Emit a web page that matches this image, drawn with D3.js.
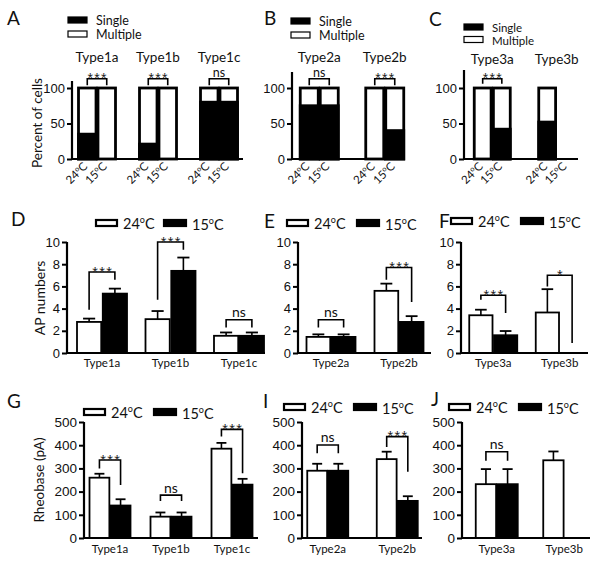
<!DOCTYPE html>
<html><head><meta charset="utf-8">
<script src="https://cdn.jsdelivr.net/npm/d3@7"></script>
<style>body{margin:0;background:#fff}svg{display:block}</style>
</head><body><svg id="c" width="600" height="563"></svg>
<script>
// ---------------- DATA ----------------
const conds = ["24", "15"];
// Row 1: percent of cells with single spikes
const groupsA = ["Type1a", "Type1b", "Type1c"];
const singleA24 = [35, 21, 80];
const singleA15 = [0, 0, 80];
const groupsB = ["Type2a", "Type2b"];
const singleB24 = [75, 0];
const singleB15 = [75, 40];
const groupsC = ["Type3a", "Type3b"];
const singleC24 = [0, 52];
const singleC15 = [42, null];
const pctTicks = [0, 50, 100];
// significance brackets: [groupIndex, label, level, leftLeg, rightLeg]
const sigA = [[0, "***", 113, 104, 104], [1, "***", 113, 104, 104], [2, "ns", 113, 104, 104]];
const sigB = [[0, "ns", 113, 104, 104], [1, "***", 113, 104, 104]];
const sigC = [[0, "***", 113, 106, 106]];

// Row 2: AP numbers (mean, sem)
const apD24 = [2.8, 3.05, 1.55], apD24sem = [0.3, 0.73, 0.3];
const apD15 = [5.35, 7.4, 1.55], apD15sem = [0.45, 1.2, 0.3];
const apE24 = [1.45, 5.6], apE24sem = [0.23, 0.65];
const apE15 = [1.45, 2.8], apE15sem = [0.23, 0.52];
const apF24 = [3.4, 3.65], apF24sem = [0.5, 2.1];
const apF15 = [1.6, null], apF15sem = [0.38, null];
const apTicks = [0, 2, 4, 6, 8, 10];
const sigD = [[0, "***", 7.3, 3.9, 6.6], [1, "***", 10.0, 4.8, 9.3], [2, "ns", 3.0, 2.3, 2.3]];
const sigE = [[0, "ns", 3.0, 2.3, 2.3], [1, "***", 7.7, 6.6, 4.6]];
const sigF = [[0, "***", 5.2, 4.8, 3.6], [1, "*", 7.0, 6.0, 0.9]];

// Row 3: Rheobase (pA)
const rhG24 = [260, 92, 385], rhG24sem = [17, 18, 25];
const rhG15 = [140, 92, 230], rhG15sem = [27, 18, 25];
const rhI24 = [290, 340], rhI24sem = [30, 32];
const rhI15 = [290, 160], rhI15sem = [30, 20];
const rhJ24 = [232, 335], rhJ24sem = [65, 38];
const rhJ15 = [232, null], rhJ15sem = [65, null];
const rhTicks = [0, 100, 200, 300, 400, 500];
const sigG = [[0, "***", 336, 300, 228], [1, "ns", 185, 160, 160], [2, "***", 468, 437, 279]];
const sigI = [[0, "ns", 401, 365, 365], [1, "***", 437, 392, 286]];
const sigJ = [[0, "ns", 372, 333, 333]];

// ---------------- DRAWING ----------------
const svg = d3.select("#c");
const NUM = "'Liberation Sans', Arial, sans-serif";
const LAB = "Lato, 'Open Sans', sans-serif";
const INK = "#111";

function tempText(sel, t, fs) {
  sel.append("tspan").text(t);
  sel.append("tspan").text("o").attr("font-size", fs * 0.62).attr("dy", -fs * 0.38);
  sel.append("tspan").text("C").attr("dy", fs * 0.38);
}

function scales(o) {
  const y = d3.scaleLinear().domain([0, o.max]).range([o.y0, o.yMax]);
  const p = 1 - o.pair / o.step;
  const xg = d3.scaleBand().domain(o.groups)
    .range([o.bx, o.bx + o.step * o.groups.length])
    .paddingInner(p).paddingOuter(p / 2);
  const xi = d3.scaleBand().domain(conds).range([0, xg.bandwidth()]).paddingInner(o.gap);
  return {y, xg, xi};
}

function axes(o, s, tickFs) {
  const g = svg.append("g").attr("transform", `translate(${o.ax},0)`);
  g.call(d3.axisLeft(s.y).tickValues(o.ticks).tickSize(5).tickPadding(2))
    .call(a => a.select(".domain").remove())
    .call(a => a.selectAll("line").attr("stroke", "#000").attr("stroke-width", 2))
    .call(a => a.selectAll("text").attr("font-family", NUM).attr("font-size", tickFs).attr("fill", INK));
  svg.append("line").attr("x1", o.ax).attr("x2", o.ax).attr("y1", s.y(0) + 1).attr("y2", o.axTop)
    .attr("stroke", "#000").attr("stroke-width", 2.2);
  svg.append("line").attr("x1", o.ax).attr("x2", o.axRight).attr("y1", s.y(0)).attr("y2", s.y(0))
    .attr("stroke", "#000").attr("stroke-width", 2.2);
}

function brackets(o, s, sig, fsStar, fsNs, nsGap) {
  sig.forEach(([gi, lab, lev, l, r]) => {
    const g = o.groups[gi];
    const xl = s.xg(g) + s.xi("24") + s.xi.bandwidth() / 2;
    const xr = s.xg(g) + s.xi("15") + s.xi.bandwidth() / 2;
    const yl = s.y(lev);
    svg.append("path")
      .attr("d", `M${xl},${s.y(l)}V${yl}H${xr}V${s.y(r)}`)
      .attr("fill", "none").attr("stroke", "#000").attr("stroke-width", 1.6);
    const star = lab.startsWith("*");
    svg.append("text").attr("x", (xl + xr) / 2 + (star ? 0.7 : 0)).attr("y", star ? yl + 0.42 * fsStar - 1.5 : yl - nsGap)
      .attr("text-anchor", "middle").attr("font-family", star ? NUM : LAB)
      .attr("font-size", star ? fsStar : fsNs).attr("fill", star ? "#222" : INK)
      .attr("letter-spacing", star ? 1.4 : 0).text(lab);
  });
}

function letter(t, x, y) {
  svg.append("text").attr("x", x).attr("y", y).attr("font-family", LAB).attr("font-size", 19).attr("fill", INK).text(t);
}

// ---- Row 1 ----
function pctPanel(o) {
  const s = scales(o);
  const bw = s.xi.bandwidth();
  o.groups.forEach((g, i) => {
    [[o.s24[i], "24"], [o.s15[i], "15"]].forEach(([v, c]) => {
      const x = s.xg(g) + s.xi(c);
      if (v !== null) {
        svg.append("rect").attr("x", x).attr("y", s.y(100)).attr("width", bw).attr("height", s.y(0) - s.y(100))
          .attr("fill", "#fff").attr("stroke", "#000").attr("stroke-width", 2.8);
        if (v > 0) svg.append("rect").attr("x", x).attr("y", s.y(v)).attr("width", bw).attr("height", s.y(0) - s.y(v))
          .attr("fill", "#000").attr("stroke", "#000").attr("stroke-width", 2.8);
      }
      const lx = x + bw / 2 + 1, ly = s.y(0) + 8;
      const t = svg.append("text").attr("transform", `translate(${lx},${ly}) rotate(-45)`)
        .attr("text-anchor", "end").attr("font-family", LAB).attr("font-size", 11.5).attr("fill", INK);
      tempText(t, c, 11.5);
    });
    svg.append("text").attr("x", s.xg(g) + s.xg.bandwidth() / 2).attr("y", o.titleY)
      .attr("text-anchor", "middle").attr("font-family", LAB).attr("font-size", 13.5).attr("fill", INK).text(g);
  });
  axes(o, s, 13);
  brackets(o, s, o.sig, 14, 12.5, 1.5);
  // legend
  const L = o.leg;
  svg.append("rect").attr("x", L[0]).attr("y", L[1]).attr("width", 19).attr("height", 6)
    .attr("fill", "#000").attr("stroke", "#000").attr("stroke-width", 1.2);
  svg.append("rect").attr("x", L[0]).attr("y", L[1] + L[2]).attr("width", 19).attr("height", 6)
    .attr("fill", "#fff").attr("stroke", "#000").attr("stroke-width", 1.2);
  svg.append("text").attr("x", L[0] + 28).attr("y", L[1] + 8).attr("font-family", LAB).attr("font-size", L[3]).attr("fill", INK).text("Single");
  svg.append("text").attr("x", L[0] + 28).attr("y", L[1] + L[2] + 8).attr("font-family", LAB).attr("font-size", L[3]).attr("fill", INK).text("Multiple");
}

pctPanel({groups: groupsA, s24: singleA24, s15: singleA15, max: 100, y0: 159, yMax: 88, ticks: pctTicks,
  bx: 66.5, step: 61, pair: 37, gap: 0.1, ax: 72, axTop: 81, axRight: 243, titleY: 61.5, sig: sigA, leg: [68, 17, 14, 12.5]});
pctPanel({groups: groupsB, s24: singleB24, s15: singleB15, max: 100, y0: 159, yMax: 88, ticks: pctTicks,
  bx: 286.5, step: 65.5, pair: 38, gap: 0.1, ax: 292, axTop: 72, axRight: 405, titleY: 61.5, sig: sigB, leg: [291, 18, 14, 12.5]});
pctPanel({groups: groupsC, s24: singleC24, s15: singleC15, max: 100, y0: 159, yMax: 88, ticks: pctTicks,
  bx: 460, step: 64.5, pair: 36, gap: 0.12, ax: 464, axTop: 70, axRight: 578, titleY: 64, sig: sigC, leg: [464, 24, 12.5, 11.5]});
letter("A", 7, 25); letter("B", 264, 25); letter("C", 429, 26);
svg.append("text").attr("transform", "translate(42,123) rotate(-90)").attr("text-anchor", "middle")
  .attr("font-family", LAB).attr("font-size", 13.5).attr("fill", INK).text("Percent of cells");

// ---- Rows 2 & 3 ----
function meanPanel(o) {
  const s = scales(o);
  const bw = s.xi.bandwidth();
  o.groups.forEach((g, i) => {
    [[o.m24[i], o.e24[i], "24", "#fff"], [o.m15[i], o.e15[i], "15", "#000"]].forEach(([v, e, c, fill]) => {
      if (v === null) return;
      const x = s.xg(g) + s.xi(c);
      const cx = x + bw / 2;
      svg.append("line").attr("x1", cx).attr("x2", cx).attr("y1", s.y(v)).attr("y2", s.y(v + e))
        .attr("stroke", "#000").attr("stroke-width", 1.6);
      svg.append("line").attr("x1", cx - bw * 0.25).attr("x2", cx + bw * 0.25).attr("y1", s.y(v + e)).attr("y2", s.y(v + e))
        .attr("stroke", "#000").attr("stroke-width", 1.8);
      svg.append("rect").attr("x", x).attr("y", s.y(v)).attr("width", bw).attr("height", s.y(0) - s.y(v))
        .attr("fill", fill).attr("stroke", "#000").attr("stroke-width", 1.8);
    });
  });
  axes(o, s, o.tickFs);
  svg.append("g").attr("transform", `translate(0,${s.y(0)})`)
    .call(d3.axisBottom(s.xg).tickSize(0).tickPadding(o.labPad))
    .call(a => a.select(".domain").remove())
    .call(a => a.selectAll("text").attr("font-family", LAB).attr("font-size", o.labFs).attr("fill", INK));
  brackets(o, s, o.sig, 14.5, 14, 2.5);
  const L = o.leg;
  svg.append("rect").attr("x", L[0]).attr("y", L[1]).attr("width", 21).attr("height", 6)
    .attr("fill", "#fff").attr("stroke", "#000").attr("stroke-width", 2.2);
  const t1 = svg.append("text").attr("x", L[0] + 27).attr("y", L[1] + 9).attr("font-family", LAB).attr("font-size", 14.5).attr("fill", INK);
  tempText(t1, "24", 14.5);
  svg.append("rect").attr("x", L[2]).attr("y", L[1]).attr("width", 22).attr("height", 6)
    .attr("fill", "#000").attr("stroke", "#000").attr("stroke-width", 2.2);
  const t2 = svg.append("text").attr("x", L[2] + 28).attr("y", L[1] + 9.5).attr("font-family", LAB).attr("font-size", 14.5).attr("fill", INK);
  tempText(t2, "15", 14.5);
}

const r2 = {max: 10, y0: 353, yMax: 242, ticks: apTicks, gap: 0.06, tickFs: 13, labFs: 11.5, labPad: 6};
meanPanel(Object.assign({}, r2, {groups: groupsA, m24: apD24, e24: apD24sem, m15: apD15, e15: apD15sem,
  bx: 67.75, step: 68.5, pair: 50, ax: 67, axTop: 242, axRight: 265, sig: sigD, leg: [96, 220, 164]}));
meanPanel(Object.assign({}, r2, {groups: groupsB, m24: apE24, e24: apE24sem, m15: apE15, e15: apE15sem,
  bx: 297, step: 68, pair: 49, ax: 298, axTop: 242, axRight: 431, sig: sigE, leg: [287, 220, 357]}));
meanPanel(Object.assign({}, r2, {groups: groupsC, m24: apF24, e24: apF24sem, m15: apF15, e15: apF15sem,
  bx: 460, step: 66.5, pair: 48, ax: 461, axTop: 242, axRight: 588, sig: sigF, leg: [451, 218, 521]}));
letter("D", 11, 226); letter("E", 264, 228); letter("F", 439, 228);
svg.append("text").attr("transform", "translate(45,298) rotate(-90)").attr("text-anchor", "middle")
  .attr("font-family", LAB).attr("font-size", 14).attr("fill", INK).text("AP numbers");

const r3 = {max: 500, y0: 538, yMax: 422, ticks: rhTicks, gap: 0.06, tickFs: 13.5, labFs: 11.5, labPad: 7};
meanPanel(Object.assign({}, r3, {groups: groupsA, m24: rhG24, e24: rhG24sem, m15: rhG15, e15: rhG15sem,
  bx: 79.5, step: 61, pair: 41, ax: 84, axTop: 422, axRight: 258, sig: sigG, leg: [84, 409, 154]}));
meanPanel(Object.assign({}, r3, {groups: groupsB, m24: rhI24, e24: rhI24sem, m15: rhI15, e15: rhI15sem,
  bx: 293, step: 69.5, pair: 41, ax: 302, axTop: 422, axRight: 422, sig: sigI, leg: [284, 404, 354]}));
meanPanel(Object.assign({}, r3, {groups: groupsC, m24: rhJ24, e24: rhJ24sem, m15: rhJ15, e15: rhJ15sem,
  bx: 463, step: 67.5, pair: 42, ax: 462, axTop: 422, axRight: 590, sig: sigJ, leg: [449, 404, 519]}));
letter("G", 7, 408); letter("I", 263, 408); letter("J", 431, 406);
svg.append("text").attr("transform", "translate(44,480) rotate(-90)").attr("text-anchor", "middle")
  .attr("font-family", LAB).attr("font-size", 13.5).attr("fill", INK).text("Rheobase (pA)");
</script></body></html>
